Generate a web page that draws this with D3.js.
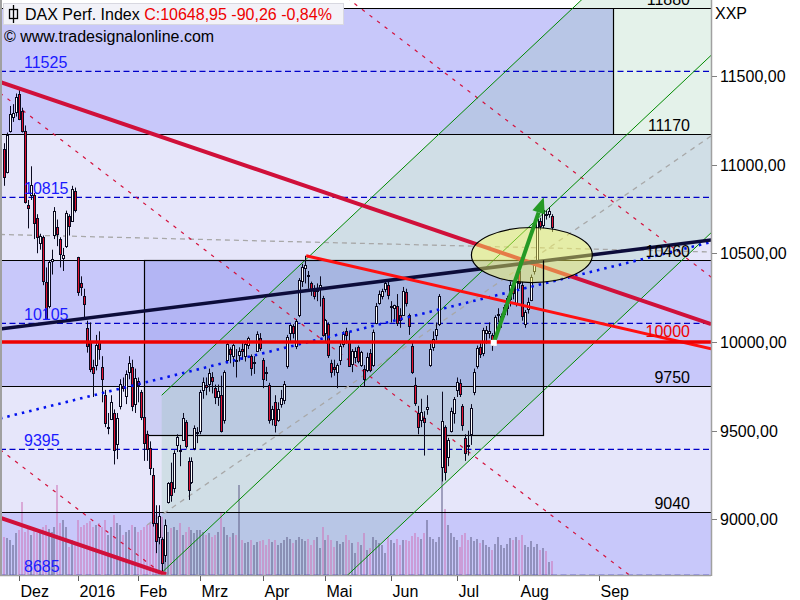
<!DOCTYPE html>
<html><head><meta charset="utf-8">
<script src="https://cdn.jsdelivr.net/npm/d3@7"></script>
<style>body{margin:0;background:#fff;} svg{display:block;font-family:"Liberation Sans",Arial,sans-serif;}</style>
</head><body><svg id="c" width="800" height="600"></svg>
<script>
// ---------- DATA ----------
// daily bars, index 0 = 24 Nov 2015 ... index 184 = 16 Aug 2016
const open = [11090,10960,11190,11270,11300,11400,11300,11190,10770,10830,10830,10700,10560,10590,10340,10200,10460,10600,10650,10580,10470,10540,10710,10680,10850,
10480,10330,10260,10080,10000,9860,9870,10000,9860,9700,9520,9570,9600,9430,9640,9750,9700,9830,9860,9650,
9780,9720,9580,9480,9400,9250,8980,8900,8890,8800,9100,9210,9180,9420,9390,9450,9550,9330,9210,9400,9490,
9500,9730,9760,9760,9800,9740,9690,9700,9560,9900,9960,9920,9900,9930,9960,9920,9980,9920,9880,9950,10020,
9900,9830,9760,9570,9660,9560,9650,9670,9860,10050,10090,9980,10150,10340,10420,10380,10330,10290,10290,10300,10250,
10050,10100,9880,9860,9830,9900,9990,10060,10000,9880,9920,9970,9870,9850,9840,9940,9870,10110,10220,10260,10300,10320,
10200,10190,10200,10150,10150,10280,10150,9980,9760,9600,9560,9570,9620,9870,9970,10040,10100,9300,9520,9350,9500,9600,
9730,9770,9640,9460,9420,9480,9720,9860,9970,9940,10050,10050,10040,10000,10150,10120,10160,10190,10240,10320,10220,
10400,10320,10100,10190,10240,10400,10450,10680,10660,10720,10720,10710];
const high = [11120,11180,11330,11340,11400,11430,11320,11220,10800,10990,10840,10720,10610,10600,10420,10460,10520,10760,10690,10590,10530,10740,10720,10880,10870,
10480,10370,10300,10120,10110,9900,10040,10060,9920,9730,9600,9700,9620,9600,9790,9800,9840,9920,9900,9850,
9800,9730,9600,9500,9440,9290,9080,9080,8900,9000,9210,9320,9390,9480,9420,9600,9560,9350,9350,9530,9520,
9730,9800,9800,9850,9830,9760,9760,9810,9840,10000,9970,9990,9960,9970,10000,10000,10030,9930,9920,10060,10050,
9910,9860,9770,9640,9700,9660,9730,9780,10040,10100,10100,10130,10360,10440,10486,10400,10340,10320,10330,10370,10260,
10130,10110,9900,9900,9880,10000,10060,10080,10060,9960,9970,9980,9950,9870,9940,9960,10070,10220,10290,10300,10340,10350,
10230,10210,10270,10190,10310,10300,10160,10000,9800,9640,9680,9610,9700,9990,10060,10110,10270,9720,9530,9460,9630,9690,
9800,9790,9650,9480,9500,9650,9850,9980,10000,10080,10090,10110,10050,10150,10190,10160,10210,10260,10340,10340,10340,
10460,10340,10180,10250,10380,10440,10700,10700,10760,10740,10760,10720];
const low = [10880,10950,11180,11240,11270,11250,11180,10780,10640,10800,10580,10500,10520,10320,10130,10190,10380,10580,10540,10420,10400,10530,10600,10680,10730,
10260,10260,10140,9940,9830,9690,9840,9900,9660,9520,9480,9560,9310,9340,9620,9720,9650,9790,9610,9600,
9660,9560,9330,9330,9250,8960,8810,8860,8700,8760,9090,9100,9150,9380,9300,9450,9400,9110,9200,9390,9430,
9480,9680,9700,9720,9710,9650,9640,9490,9540,9880,9880,9860,9800,9890,9900,9890,9960,9810,9820,9950,9950,
9740,9780,9540,9530,9490,9550,9630,9650,9850,10000,10020,9960,10140,10310,10330,10300,10260,10240,10230,10200,10030,
10000,9910,9800,9810,9740,9870,9970,9990,9860,9830,9880,9880,9860,9750,9830,9830,9860,10100,10210,10240,10280,10240,
10110,10120,10090,10080,10150,10200,10040,9820,9640,9480,9520,9360,9590,9860,9950,10010,10090,9214,9220,9300,9490,9540,
9690,9690,9500,9330,9360,9420,9700,9850,9910,9920,9990,10020,9950,9990,10110,10080,10140,10150,10200,10240,10200,
10300,10120,10080,10160,10230,10380,10440,10630,10640,10690,10700,10620];
const close = [10933,11169,11285,11293,11382,11261,11190,10789,10752,10887,10673,10592,10598,10340,10139,10450,10469,10738,10608,10497,10488,10727,10653,10860,10743,
10283,10310,10214,9979,9849,9825,9985,9960,9794,9545,9521,9664,9391,9574,9764,9737,9822,9881,9640,9798,
9757,9581,9434,9393,9286,8979,8879,9017,8752,8967,9207,9135,9377,9463,9388,9573,9416,9167,9331,9513,9495,
9717,9776,9751,9824,9778,9692,9723,9499,9831,9990,9933,9984,9892,9950,9948,9990,10022,9851,9887,10046,9965,
9794,9822,9564,9624,9530,9622,9682,9761,10026,10093,10051,10120,10350,10421,10435,10373,10294,10260,10299,10321,10039,
10123,9926,9829,9851,9870,9980,10045,10036,9862,9952,9952,9890,9943,9795,9916,9842,10057,10205,10272,10286,10333,10262,
10204,10208,10103,10121,10287,10217,10088,9834,9657,9519,9606,9550,9631,9962,10015,10071,10257,9557,9268,9448,9612,9680,
9776,9709,9532,9373,9418,9629,9833,9964,9930,10068,10066,10063,9981,10142,10157,10147,10198,10247,10320,10275,10337,
10330,10144,10170,10228,10367,10432,10693,10650,10743,10713,10739,10649];
const volume = [76,74,70,60,84,90,146,86,96,80,88,84,90,96,100,92,86,96,180,104,110,96,56,70,64,
110,96,100,104,108,96,100,104,96,110,80,96,120,104,100,80,86,90,100,96,
86,90,96,100,104,110,120,104,116,100,86,94,96,90,104,80,86,96,90,84,90,
90,86,80,84,76,80,86,126,96,80,76,84,80,180,70,64,66,70,60,66,68,
70,60,72,66,70,60,64,70,76,72,64,70,76,72,68,72,60,70,76,54,96,
70,80,70,56,68,62,66,80,70,64,44,66,60,84,50,54,76,70,64,60,44,76,
70,64,72,60,70,70,68,78,84,76,72,84,110,76,72,66,76,234,132,100,84,76,
70,56,80,84,70,76,68,72,64,70,60,56,50,62,76,60,54,62,74,70,76,
70,80,60,56,68,56,62,50,54,48,26,28];

const monthLabels = ["Dez","2016","Feb","Mrz","Apr","Mai","Jun","Jul","Aug","Sep"];
const monthIndex  = [5,25,45,66,87,108,130,152,173,200];
const priceTicks = [9000,9500,10000,10500,11000,11500];
const dashedLevels = [8685,9395,10105,10815,11525];
const solidLevels  = [9040,9750,10460,11170,11880];
const bandBreaks = [8000,9040,9750,10460,11170,11880,13000];

// drawing objects in (bar index, price) space
const crimsonUpper = [[-1.3,11465],[237.5,10101]];
const crimsonLower = [[-1.3,9010],[54.5,8690]];
const redFromApril = [[101.5,10486],[237.5,9962]];
const navyLine = [[-1.3,10073],[237.5,10575]];
const blueDotted = [[-1.3,9569],[237.5,10563]];
const grayDash1 = [[-1.3,10606],[237.5,10507]];
const grayDash2 = [[48.1,8969],[237.5,11161]];
const redDash1 = [[100,12135],[240,10334]];
const redDash2 = [[-1.3,11403],[240,8302]];
const redDash3 = [[-1.3,9394],[60,8606]];
const chanUpper = [[53,9700],[240,12655]];
const chanMid   = [[53,8700],[240,11655]];
const chanLower = [[53,7700],[240,10655]];
const boxIdx = [47.1,181.1], boxPrice = [9476,10460];
const topRectIdx = [204.5,240], topRectPrice = [11170,11880];
const ellipseIdx = [157,197.6], ellipsePrice = [10335,10645];
const arrowPts = [[164.5,9995],[181.3,10815]];
const headerName = "DAX Perf. Index ";
const headerQuote = "C:10648,95 -90,26 -0,84%";

// ---------- CHART ----------
const svg = d3.select("#c");
const PR = 711, PB = 575;
const x = d3.scaleLinear().domain([-1.3,237.45]).range([0,PR]);
const y = d3.scaleLinear().domain([8687,11927]).range([PB,0]);
const vy = d3.scaleLinear().domain([0,240]).range([PB,455]);
const line = d3.line().x(d=>x(d[0])).y(d=>y(d[1]));

svg.append("rect").attr("width",800).attr("height",600).attr("fill","#fff");
svg.append("defs").append("clipPath").attr("id","pc").append("rect").attr("x",2).attr("y",0).attr("width",PR-2).attr("height",PB);
const g = svg.append("g").attr("clip-path","url(#pc)");

// bands
const bandColors = ["#c8c8fa","#e6e6fa","#c8c8fa","#e6e6fa","#c8c8fa","#ffffff"];
g.selectAll("rect.band").data(d3.range(bandBreaks.length-1)).join("rect")
  .attr("x",0).attr("width",PR)
  .attr("y",i=>y(bandBreaks[i+1])).attr("height",i=>y(bandBreaks[i])-y(bandBreaks[i+1]))
  .attr("fill",i=>bandColors[i]);
// top right rect
g.append("rect").attr("x",x(topRectIdx[0])).attr("width",x(topRectIdx[1])-x(topRectIdx[0]))
  .attr("y",y(topRectPrice[1])).attr("height",y(topRectPrice[0])-y(topRectPrice[1])).attr("fill","#ffffff");
// box fill
g.append("rect").attr("x",x(boxIdx[0])).attr("width",x(boxIdx[1])-x(boxIdx[0]))
  .attr("y",y(boxPrice[1])).attr("height",y(boxPrice[0])-y(boxPrice[1]))
  .attr("fill","rgb(80,90,215)").attr("fill-opacity",0.17);
// channel fill
g.append("path").attr("d",line(chanUpper.concat(chanLower.slice().reverse()))+"Z")
  .attr("fill","rgb(120,190,150)").attr("fill-opacity",0.2);

// volume
const N = close.length;
g.selectAll("rect.vol").data(d3.range(N)).join("rect")
  .attr("x",i=>Math.round(x(i))-1).attr("width",2)
  .attr("y",i=>vy(volume[i])).attr("height",i=>PB-vy(volume[i]))
  .attr("fill",i=>close[i]>=open[i]?"rgba(100,100,140,0.55)":"rgba(205,120,185,0.55)");

// level lines
g.selectAll("line.dl").data(dashedLevels).join("line")
  .attr("x1",0).attr("x2",PR).attr("y1",d=>y(d)).attr("y2",d=>y(d))
  .attr("stroke","#0000c8").attr("stroke-width",1.3).attr("stroke-dasharray","6,3.5");
g.selectAll("line.sl").data(solidLevels).join("line")
  .attr("x1",0).attr("x2",PR).attr("y1",d=>Math.round(y(d))+0.5).attr("y2",d=>Math.round(y(d))+0.5)
  .attr("stroke","#000").attr("stroke-width",1.2);

// thin dashed / channel lines
function path(pts,color,w,dash){const p=g.append("path").attr("d",line(pts)).attr("fill","none").attr("stroke",color).attr("stroke-width",w); if(dash)p.attr("stroke-dasharray",dash); return p;}
path(grayDash1,"#a8a8a8",1.3,"5,4");
path(grayDash2,"#a8a8a8",1.3,"5,5");
[redDash1,redDash2,redDash3].forEach(p=>path(p,"#d4103c",1.2,"3.5,6"));
[chanUpper,chanMid,chanLower].forEach(p=>path(p,"#008a00",1));

// box & rect outlines
g.append("rect").attr("x",Math.round(x(boxIdx[0]))+0.5).attr("width",Math.round(x(boxIdx[1])-x(boxIdx[0])))
  .attr("y",Math.round(y(boxPrice[1]))+0.5).attr("height",Math.round(y(boxPrice[0])-y(boxPrice[1])))
  .attr("fill","none").attr("stroke","#000").attr("stroke-width",1.2);
g.append("line").attr("x1",Math.round(x(topRectIdx[0]))+0.5).attr("x2",Math.round(x(topRectIdx[0]))+0.5)
  .attr("y1",y(topRectPrice[1])).attr("y2",y(topRectPrice[0])).attr("stroke","#000").attr("stroke-width",1.2);

// candles
const cg = g.append("g");
d3.range(N).forEach(i=>{
  const cx=Math.round(x(i));
  cg.append("line").attr("x1",cx+0.5).attr("x2",cx+0.5).attr("y1",y(high[i])).attr("y2",y(low[i])).attr("stroke","#0a0a20").attr("stroke-width",1);
  const top=y(Math.max(open[i],close[i])), bot=y(Math.min(open[i],close[i]));
  cg.append("rect").attr("x",cx-0.5).attr("width",2).attr("y",Math.round(top)+0.5).attr("height",Math.max(1,Math.round(bot-top)))
    .attr("fill",close[i]>=open[i]?"#ffffff":"#e0102f").attr("stroke","#0a0a20").attr("stroke-width",1);
});

// thick lines
path(blueDotted,"#0010ee",2.6,"2.5,5");
path(crimsonUpper,"#d0103a",4);
path(crimsonLower,"#d0103a",4);
path(navyLine,"#0c0c3a",3.5);
path(redFromApril,"#ff1010",3);
g.append("line").attr("x1",0).attr("x2",PR).attr("y1",y(10000)).attr("y2",y(10000)).attr("stroke","#ee0000").attr("stroke-width",3.5);

// ellipse
const ex0=x(ellipseIdx[0]), ex1=x(ellipseIdx[1]), ey0=y(ellipsePrice[1]), ey1=y(ellipsePrice[0]);
g.append("ellipse").attr("cx",(ex0+ex1)/2).attr("cy",(ey0+ey1)/2).attr("rx",(ex1-ex0)/2).attr("ry",(ey1-ey0)/2)
  .attr("fill","rgb(255,255,90)").attr("fill-opacity",0.45).attr("stroke","#000").attr("stroke-width",1.2);
g.append("line").attr("x1",Math.round(x(boxIdx[1]))+0.5).attr("x2",Math.round(x(boxIdx[1]))+0.5)
  .attr("y1",y(boxPrice[1])).attr("y2",ey1).attr("stroke","#000").attr("stroke-width",1.2);

// arrow
const ax0=x(arrowPts[0][0]), ay0=y(arrowPts[0][1]), ax1=x(arrowPts[1][0]), ay1=y(arrowPts[1][1]);
const L=Math.hypot(ax1-ax0,ay1-ay0), ux=(ax1-ax0)/L, uy=(ay1-ay0)/L, hl=16, hw=6.5;
const bx=ax1-ux*hl, by=ay1-uy*hl;
g.append("line").attr("x1",ax0).attr("y1",ay0).attr("x2",bx).attr("y2",by).attr("stroke","#259a25").attr("stroke-width",4);
g.append("path").attr("d",`M${ax1},${ay1}L${bx-uy*hw},${by+ux*hw}L${bx+uy*hw},${by-ux*hw}Z`).attr("fill","#259a25");
g.append("rect").attr("x",ax0-3).attr("y",ay0-3).attr("width",6).attr("height",6).attr("fill","#fff");

// level labels
g.selectAll("text.dl").data(dashedLevels).join("text").attr("x",24).attr("y",d=>y(d)-3)
  .attr("fill","#1a1aff").attr("font-size",16).text(d=>d);
g.selectAll("text.sl").data(solidLevels).join("text").attr("x",690).attr("y",d=>y(d)-3)
  .attr("text-anchor","end").attr("fill","#000").attr("font-size",16).text(d=>d);
g.append("text").attr("x",690).attr("y",y(10000)-5).attr("text-anchor","end").attr("fill","#ee0000").attr("font-size",16).text("10000");

// frame
svg.append("line").attr("x1",1).attr("x2",1).attr("y1",0).attr("y2",PB).attr("stroke","#a0a0a0").attr("stroke-width",2);
svg.append("line").attr("x1",0).attr("x2",PR).attr("y1",PB+0.5).attr("y2",PB+0.5).attr("stroke","#a0a0a0").attr("stroke-width",1.5);
svg.append("line").attr("x1",PR+0.5).attr("x2",PR+0.5).attr("y1",0).attr("y2",PB+1).attr("stroke","#a0a0a0").attr("stroke-width",1.5);

// right axis
const fmt = d3.formatLocale({decimal:",",thousands:"",grouping:[3],currency:["","€"]}).format(".2f");
priceTicks.forEach(v=>{
  svg.append("line").attr("x1",PR+1).attr("x2",PR+6).attr("y1",Math.round(y(v))+0.5).attr("y2",Math.round(y(v))+0.5).attr("stroke","#808080");
  svg.append("text").attr("x",720).attr("y",y(v)+6).attr("font-size",16).attr("fill","#000").text(fmt(v));
});
svg.append("text").attr("x",715).attr("y",19).attr("font-size",16).text("XXP");

// bottom axis
monthLabels.forEach((m,k)=>{
  const tx=Math.round(x(monthIndex[k]))+0.5;
  svg.append("line").attr("x1",tx).attr("x2",tx).attr("y1",PB+1).attr("y2",PB+6).attr("stroke","#606060");
  svg.append("text").attr("x",tx+1).attr("y",597).attr("font-size",16).text(m);
});

// header
svg.append("rect").attr("x",3.5).attr("y",3.5).attr("width",340).attr("height",21).attr("fill","#f2f2f8").attr("stroke","#d8d8e0");
svg.append("rect").attr("x",9.5).attr("y",9.5).attr("width",8).attr("height",9).attr("fill","none").attr("stroke","#000").attr("stroke-width",1.3);
svg.append("line").attr("x1",13.5).attr("x2",13.5).attr("y1",5).attr("y2",23).attr("stroke","#000").attr("stroke-width",1.3);
const ht = svg.append("text").attr("x",25).attr("y",20).attr("font-size",16);
ht.append("tspan").attr("fill","#000").text(headerName);
ht.append("tspan").attr("fill","#ee0000").text(headerQuote);
svg.append("text").attr("x",4).attr("y",42).attr("font-size",16).attr("fill","#000").text("\u00A9 www.tradesignalonline.com");
</script></body></html>
